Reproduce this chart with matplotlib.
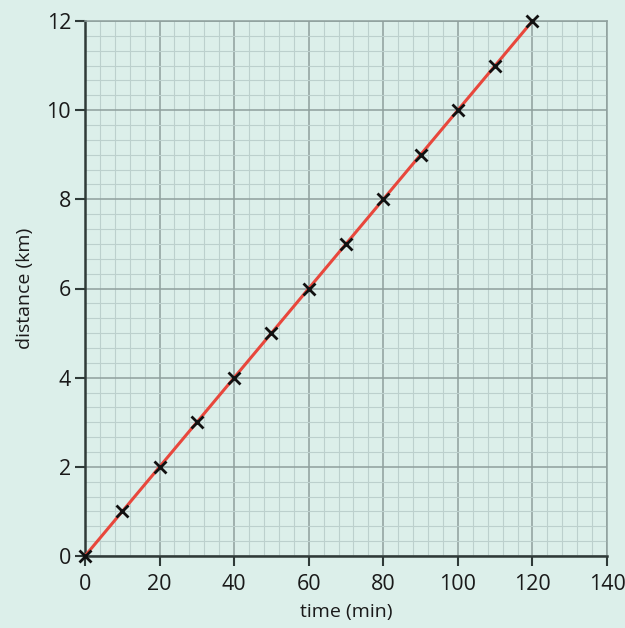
import matplotlib
matplotlib.use("Agg")
import matplotlib.pyplot as plt
import numpy as np
from matplotlib.ticker import MultipleLocator

time_min = [0, 10, 20, 30, 40, 50, 60, 70, 80, 90, 100, 110, 120]
distance_km = [0, 1, 2, 3, 4, 5, 6, 7, 8, 9, 10, 11, 12]

plt.rcParams['font.family'] = ['Open Sans', 'DejaVu Sans']

bg = '#dcefea'
fig = plt.figure(figsize=(6.25, 6.28), dpi=100, facecolor=bg)
ax = fig.add_axes([85/625, 1-556/628, (607-85)/625, (556-21)/628])
ax.set_facecolor(bg)

ax.set_xlim(0, 140)
ax.set_ylim(0, 12)
ax.xaxis.set_major_locator(MultipleLocator(20))
ax.xaxis.set_minor_locator(MultipleLocator(4))
ax.yaxis.set_major_locator(MultipleLocator(2))
ax.yaxis.set_minor_locator(MultipleLocator(1/3))

ax.grid(which='major', color='#8f9f9d', linewidth=1.1)
ax.grid(which='minor', color='#bcd0cd', linewidth=0.8)
ax.set_axisbelow(True)

ax.plot(time_min, distance_km, color='#e8473c', linewidth=2.2, zorder=3, clip_on=False)
ax.plot(time_min, distance_km, linestyle='none', marker='x', markersize=9,
        markeredgewidth=2, color='#111111', zorder=4, clip_on=False)

for s in ['left', 'bottom']:
    ax.spines[s].set_color('#2f3a38')
    ax.spines[s].set_linewidth(1.8)
for s in ['top', 'right']:
    ax.spines[s].set_color('#8f9f9d')
    ax.spines[s].set_linewidth(1.1)

ax.tick_params(which='major', direction='out', length=7, width=1.5, color='#2f3a38',
               labelsize=15.5, labelcolor='#1a1a1a')
ax.tick_params(axis='x', which='major', pad=6)
ax.tick_params(axis='y', which='major', pad=3)
ax.tick_params(which='minor', length=0)

ax.set_xlabel('time (min)', fontsize=14, color='#1a1a1a', labelpad=6)
ax.set_ylabel('distance (km)', fontsize=14, color='#1a1a1a', labelpad=9)

fig.savefig('out.png', dpi=100, facecolor=bg)
